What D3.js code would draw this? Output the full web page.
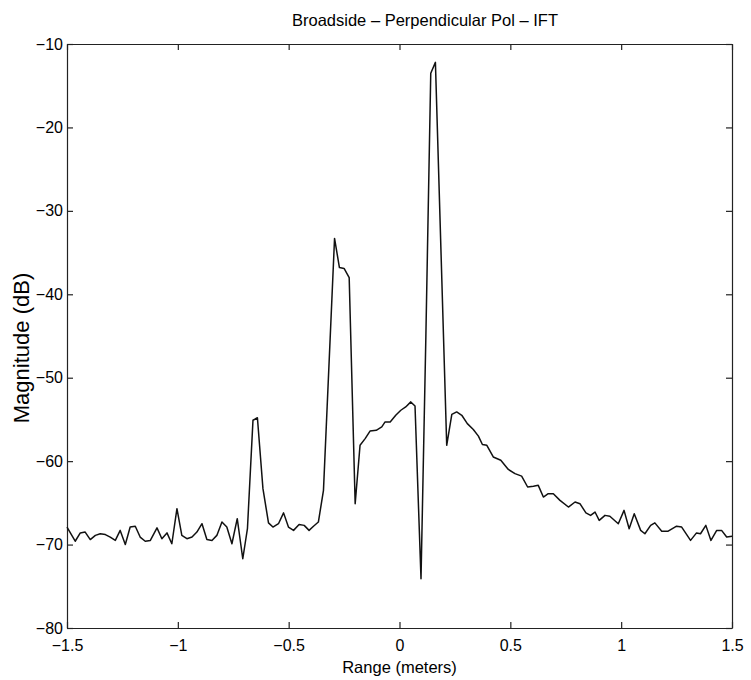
<!DOCTYPE html>
<html>
<head>
<meta charset="utf-8">
<script src="https://cdn.jsdelivr.net/npm/d3@7"></script>
<style>
  body { margin: 0; background: #fff; }
  text { font-family: "Liberation Sans", Arial, Helvetica, sans-serif; fill: #000; }
</style>
</head>
<body>
<div id="chart"></div>
<script>
  // range axis (meters) and magnitude (dB)
  var rangeM = [
    -1.500, -1.463, -1.440, -1.418, -1.395, -1.372, -1.350, -1.327, -1.305, -1.282,
    -1.260, -1.237, -1.215, -1.192, -1.170, -1.147, -1.124, -1.094, -1.072, -1.049,
    -1.027, -1.004, -0.982, -0.959, -0.936, -0.914, -0.891, -0.869, -0.846, -0.824,
    -0.801, -0.779, -0.756, -0.732, -0.707, -0.686, -0.661, -0.641, -0.616, -0.591,
    -0.571, -0.546, -0.523, -0.501, -0.478, -0.453, -0.430, -0.408, -0.388, -0.366,
    -0.343, -0.293, -0.271, -0.250, -0.227, -0.200, -0.178, -0.155, -0.133, -0.105,
    -0.080, -0.065, -0.042, -0.017, 0.006, 0.028, 0.051, 0.070, 0.097, 0.119,
    0.141, 0.162, 0.213, 0.236, 0.258, 0.281, 0.306, 0.333, 0.356, 0.374,
    0.394, 0.423, 0.457, 0.491, 0.521, 0.551, 0.578, 0.604, 0.626, 0.649,
    0.671, 0.694, 0.724, 0.762, 0.792, 0.814, 0.841, 0.862, 0.882, 0.901,
    0.927, 0.949, 0.987, 1.013, 1.036, 1.059, 1.088, 1.107, 1.133, 1.152,
    1.183, 1.212, 1.250, 1.273, 1.313, 1.340, 1.358, 1.382, 1.405, 1.431,
    1.453, 1.476, 1.500
  ];
  var magDb = [
    -67.9, -69.6, -68.6, -68.5, -69.4, -68.9, -68.7, -68.8, -69.1, -69.5,
    -68.3, -70.0, -67.9, -67.8, -69.1, -69.6, -69.5, -68.0, -69.3, -68.6,
    -69.9, -65.7, -68.9, -69.3, -69.1, -68.5, -67.5, -69.4, -69.5, -68.9,
    -67.3, -67.9, -69.9, -66.9, -71.7, -68.1, -55.1, -54.8, -63.3, -67.4,
    -67.9, -67.5, -66.2, -67.9, -68.3, -67.6, -67.7, -68.3, -67.8, -67.3,
    -63.5, -33.3, -36.8, -36.9, -38.0, -65.1, -58.1, -57.3, -56.4, -56.3,
    -55.9, -55.3, -55.3, -54.5, -53.9, -53.5, -52.9, -53.4, -74.1, -45.0,
    -13.5, -12.2, -58.1, -54.4, -54.1, -54.5, -55.5, -56.2, -57.0, -58.0,
    -58.1, -59.5, -59.9, -61.0, -61.5, -61.8, -63.1, -63.0, -62.9, -64.3,
    -63.9, -63.9, -64.7, -65.5, -64.9, -65.1, -66.2, -66.5, -66.1, -67.1,
    -66.5, -66.6, -67.5, -65.9, -68.1, -66.3, -68.3, -68.7, -67.7, -67.4,
    -68.4, -68.4, -67.8, -67.9, -69.5, -68.6, -68.7, -67.7, -69.5, -68.3,
    -68.3, -69.1, -69.0
  ];
  var xTicks = [-1.5, -1, -0.5, 0, 0.5, 1, 1.5];
  var yTicks = [-80, -70, -60, -50, -40, -30, -20, -10];

  var svgWidth = 751;
  var svgHeight = 680;

  var margin = {
    top: 44,
    bottom: 52,
    right: 19,
    left: 67
  };

  var width = svgWidth - margin.left - margin.right;
  var height = svgHeight - margin.top - margin.bottom;

  var svg = d3
    .select("#chart")
    .append("svg")
    .attr("width", svgWidth)
    .attr("height", svgHeight);

  var chartGroup = svg.append("g")
    .attr("transform", `translate(${margin.left}, ${margin.top})`);

  var xScale = d3.scaleLinear()
    .domain([-1.5, 1.5])
    .range([0, width]);

  var yScale = d3.scaleLinear()
    .domain([-80, -10])
    .range([height, 0]);

  var fmt = d3.format("~g");

  // MATLAB style box: ticks point inward on all four sides
  var bottomAxis = d3.axisBottom(xScale).tickValues(xTicks).tickFormat(fmt)
    .tickSizeInner(-6).tickSizeOuter(0).tickPadding(12);
  var topAxis = d3.axisTop(xScale).tickValues(xTicks).tickFormat("")
    .tickSizeInner(-6).tickSizeOuter(0);
  var leftAxis = d3.axisLeft(yScale).tickValues(yTicks).tickFormat(fmt)
    .tickSizeInner(-6).tickSizeOuter(0).tickPadding(4);
  var rightAxis = d3.axisRight(yScale).tickValues(yTicks).tickFormat("")
    .tickSizeInner(-6).tickSizeOuter(0);

  chartGroup.append("g")
    .attr("class", "axis")
    .attr("transform", `translate(0, ${height})`)
    .call(bottomAxis);
  chartGroup.append("g")
    .attr("class", "axis")
    .call(topAxis);
  chartGroup.append("g")
    .attr("class", "axis")
    .call(leftAxis);
  chartGroup.append("g")
    .attr("class", "axis")
    .attr("transform", `translate(${width}, 0)`)
    .call(rightAxis);

  chartGroup.selectAll(".axis path, .axis line")
    .attr("stroke", "#222")
    .attr("stroke-width", 1.2);
  chartGroup.selectAll(".axis text")
    .attr("font-size", "16px")
    .attr("fill", "#000");

  var points = rangeM.map((r, i) => ({ r: r, db: magDb[i] }));

  var line = d3.line()
    .x(d => xScale(d.r))
    .y(d => yScale(d.db));

  chartGroup.append("path")
    .datum(points)
    .attr("d", line)
    .attr("fill", "none")
    .attr("stroke", "#111")
    .attr("stroke-width", 1.5)
    .attr("stroke-linejoin", "round");

  svg.append("text")
    .attr("x", 425)
    .attr("y", 26)
    .attr("text-anchor", "middle")
    .attr("font-size", "16.5px")
    .text("Broadside – Perpendicular Pol – IFT");

  svg.append("text")
    .attr("x", margin.left + width / 2)
    .attr("y", 673)
    .attr("text-anchor", "middle")
    .attr("font-size", "16.5px")
    .text("Range (meters)");

  svg.append("text")
    .attr("transform", "translate(29, 348) rotate(-90)")
    .attr("text-anchor", "middle")
    .attr("font-size", "22px")
    .text("Magnitude (dB)");
</script>
</body>
</html>
